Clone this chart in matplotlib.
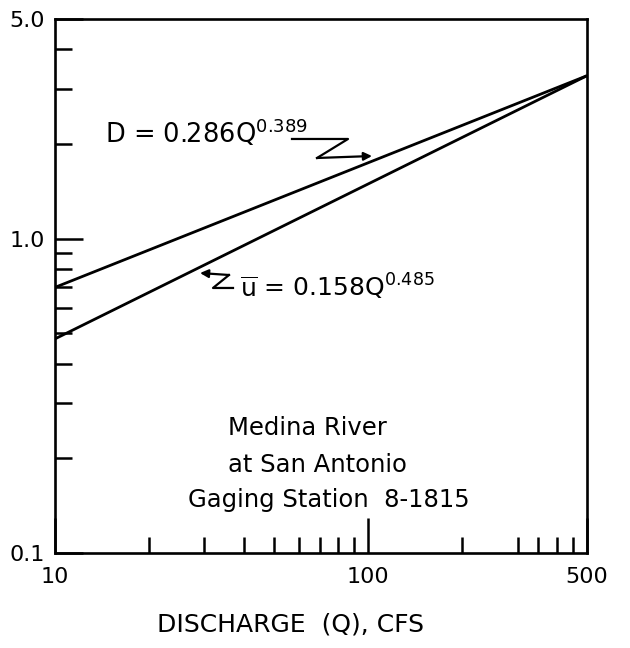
import matplotlib
matplotlib.use("Agg")
import matplotlib.pyplot as plt

# data (log-log straight lines, end points only)
discharge = [10, 500]
depth_D = [0.70, 3.3]
velocity_u = [0.48, 3.3]

x_major = [10, 100, 500]
x_major_labels = ["10", "100", "500"]
x_minor = [20, 30, 40, 50, 60, 70, 80, 90, 200, 300, 350, 400, 450]
y_major = [0.1, 1.0, 5.0]
y_major_labels = ["0.1", "1.0", "5.0"]
y_minor = [0.2, 0.3, 0.4, 0.5, 0.6, 0.7, 0.8, 0.9, 2, 3, 4]

plt.rcParams['font.family'] = ['DejaVu Sans']
plt.rcParams['mathtext.default'] = 'regular'

fig = plt.figure(figsize=(6.3, 6.48), dpi=100)
ax = fig.add_axes([0.0873, 0.1466, 0.8444, 0.8241])

lw = 2.0
ax.plot(discharge, depth_D, color='black', lw=lw, solid_capstyle='butt')
ax.plot(discharge, velocity_u, color='black', lw=lw, solid_capstyle='butt')

ax.set_xscale('log')
ax.set_yscale('log')
ax.set_xlim(10, 500)
ax.set_ylim(0.1, 5.0)

for s in ax.spines.values():
    s.set_linewidth(1.9)

ax.set_xticks(x_major)
ax.set_xticklabels(x_major_labels)
ax.set_xticks(x_minor, minor=True)
ax.set_xticklabels([], minor=True)
ax.set_yticks(y_major)
ax.set_yticklabels(y_major_labels)
ax.set_yticks(y_minor, minor=True)
ax.set_yticklabels([], minor=True)

ax.tick_params(axis='x', which='major', direction='in', length=25, width=1.8,
               labelsize=16, pad=10)
ax.tick_params(axis='x', which='minor', direction='in', length=11.5, width=1.8)
ax.tick_params(axis='y', which='major', direction='in', length=20, width=1.8,
               labelsize=16, pad=7)
ax.tick_params(axis='y', which='minor', direction='in', length=12, width=1.8)

ax.set_xlabel("DISCHARGE  (Q), CFS", fontsize=18)
ax.xaxis.set_label_coords(0.442, -0.112)

# equation labels
ax.text(0.094, 0.768, r'D = 0.286Q$^{0.389}$', transform=ax.transAxes,
        fontsize=18.5, ha='left', va='baseline')
ax.text(0.348, 0.481, r'$\overline{u}$ = 0.158Q$^{0.485}$', transform=ax.transAxes,
        fontsize=18, ha='left', va='baseline')

# Z-shaped leader arrows
def leader(pts):
    xs = [p[0] for p in pts]
    ys = [p[1] for p in pts]
    ax.plot(xs[:-1], ys[:-1], color='black', lw=1.6, transform=ax.transAxes)
    ax.annotate('', xy=pts[-1], xytext=pts[-2], xycoords='axes fraction',
                arrowprops=dict(arrowstyle='-|>', color='black', lw=1.6,
                                mutation_scale=12, shrinkA=0, shrinkB=0))

leader([(0.4455, 0.7753), (0.5508, 0.7753), (0.4925, 0.7397), (0.5959, 0.7434)])
leader([(0.3346, 0.4963), (0.2970, 0.4963), (0.3271, 0.5206), (0.2726, 0.5243)])

# station label
ax.text(0.475, 0.234, "Medina River", transform=ax.transAxes,
        fontsize=17.5, ha='center', va='center')
ax.text(0.494, 0.165, "at San Antonio", transform=ax.transAxes,
        fontsize=17.5, ha='center', va='center')
ax.text(0.515, 0.099, "Gaging Station  8-1815", transform=ax.transAxes,
        fontsize=17.5, ha='center', va='center')

fig.savefig("out.png", dpi=100)
